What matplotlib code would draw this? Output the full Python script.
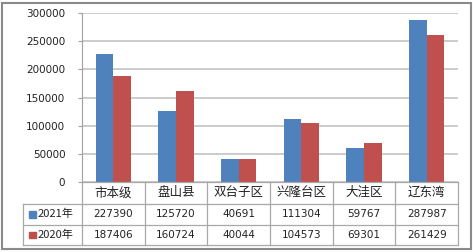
import matplotlib.pyplot as plt
from matplotlib.patches import Rectangle
from matplotlib.lines import Line2D
import numpy as np

plt.rcParams['font.family'] = ['Noto Sans CJK SC', 'DejaVu Sans']

categories = ['市本级', '盘山县', '双台子区', '兴隆台区', '大洼区', '辽东湾']
series_names = ['2021年', '2020年']
values_2021 = [227390, 125720, 40691, 111304, 59767, 287987]
values_2020 = [187406, 160724, 40044, 104573, 69301, 261429]
colors = ['#4F81BD', '#C0504D']
yticks = [0, 50000, 100000, 150000, 200000, 250000, 300000]

W, H = 473, 252
fig = plt.figure(figsize=(W / 100, H / 100), dpi=100)

# plot area in pixels
left, right, top, bottom = 82, 458, 13, 182
ax = fig.add_axes([left / W, 1 - bottom / H, (right - left) / W, (bottom - top) / H])

x = np.arange(len(categories))
w = 0.28
ax.bar(x - w/2, values_2021, w, color=colors[0], zorder=3)
ax.bar(x + w/2, values_2020, w, color=colors[1], zorder=3)

ax.set_xlim(-0.5, len(categories) - 0.5)
ax.set_ylim(0, 300000)
ax.set_yticks(yticks)
ax.set_yticklabels([str(t) for t in yticks], family='DejaVu Sans', fontsize=7.5, color='#222222')
ax.tick_params(axis='y', length=3, color='#a0a0a0', pad=9)
ax.set_xticks([])
ax.grid(axis='y', color='#c8c8c8', linewidth=1.3, zorder=0)
for s in ['top', 'right', 'bottom']:
    ax.spines[s].set_visible(False)
ax.spines['left'].set_color('#a0a0a0')


def px(xp, yp):
    return xp / W, 1 - yp / H


def hline(x0, x1, y):
    (a, b), (c, _) = px(x0, y), px(x1, y)
    fig.add_artist(Line2D([a, c], [b, b], color='#a8a8a8', lw=0.9))


def vline(xp, y0, y1):
    (a, b), (_, d) = px(xp, y0), px(xp, y1)
    fig.add_artist(Line2D([a, a], [b, d], color='#a8a8a8', lw=0.9))


# data table under the plot
row_y = [182, 203.5, 224.5, 245]
lab_left = 23
colw = (right - left) / len(categories)
hline(left, right, row_y[0])
for yy in row_y[1:]:
    hline(lab_left, right, yy)
vline(lab_left, row_y[1], row_y[3])
for k in range(len(categories) + 1):
    vline(left + k * colw, row_y[0], row_y[3])

for k, cat in enumerate(categories):
    cx = left + (k + 0.5) * colw
    fig.text(*px(cx, (row_y[0] + row_y[1]) / 2), cat, ha='center', va='center',
             fontsize=9, color='#222222')
    for i, vals in enumerate([values_2021, values_2020]):
        fig.text(*px(cx, (row_y[i + 1] + row_y[i + 2]) / 2), str(vals[k]),
                 ha='center', va='center', fontsize=7.5, color='#222222',
                 family='DejaVu Sans')

for i, (name, col) in enumerate(zip(series_names, colors)):
    cy = (row_y[i + 1] + row_y[i + 2]) / 2
    x0, y0 = px(29, cy + 3.5)
    fig.add_artist(Rectangle((x0, y0), 6.5 / W, 6.5 / H, transform=fig.transFigure,
                             color=col))
    fig.text(*px(37.5, cy), name, ha='left', va='center', fontsize=8, color='#222222')

fig.add_artist(Rectangle((2 / W, 3 / H), 469 / W, 246 / H, transform=fig.transFigure,
                         fill=False, edgecolor='#8a8a8a', linewidth=1.5))

fig.savefig('out.png', dpi=100)
